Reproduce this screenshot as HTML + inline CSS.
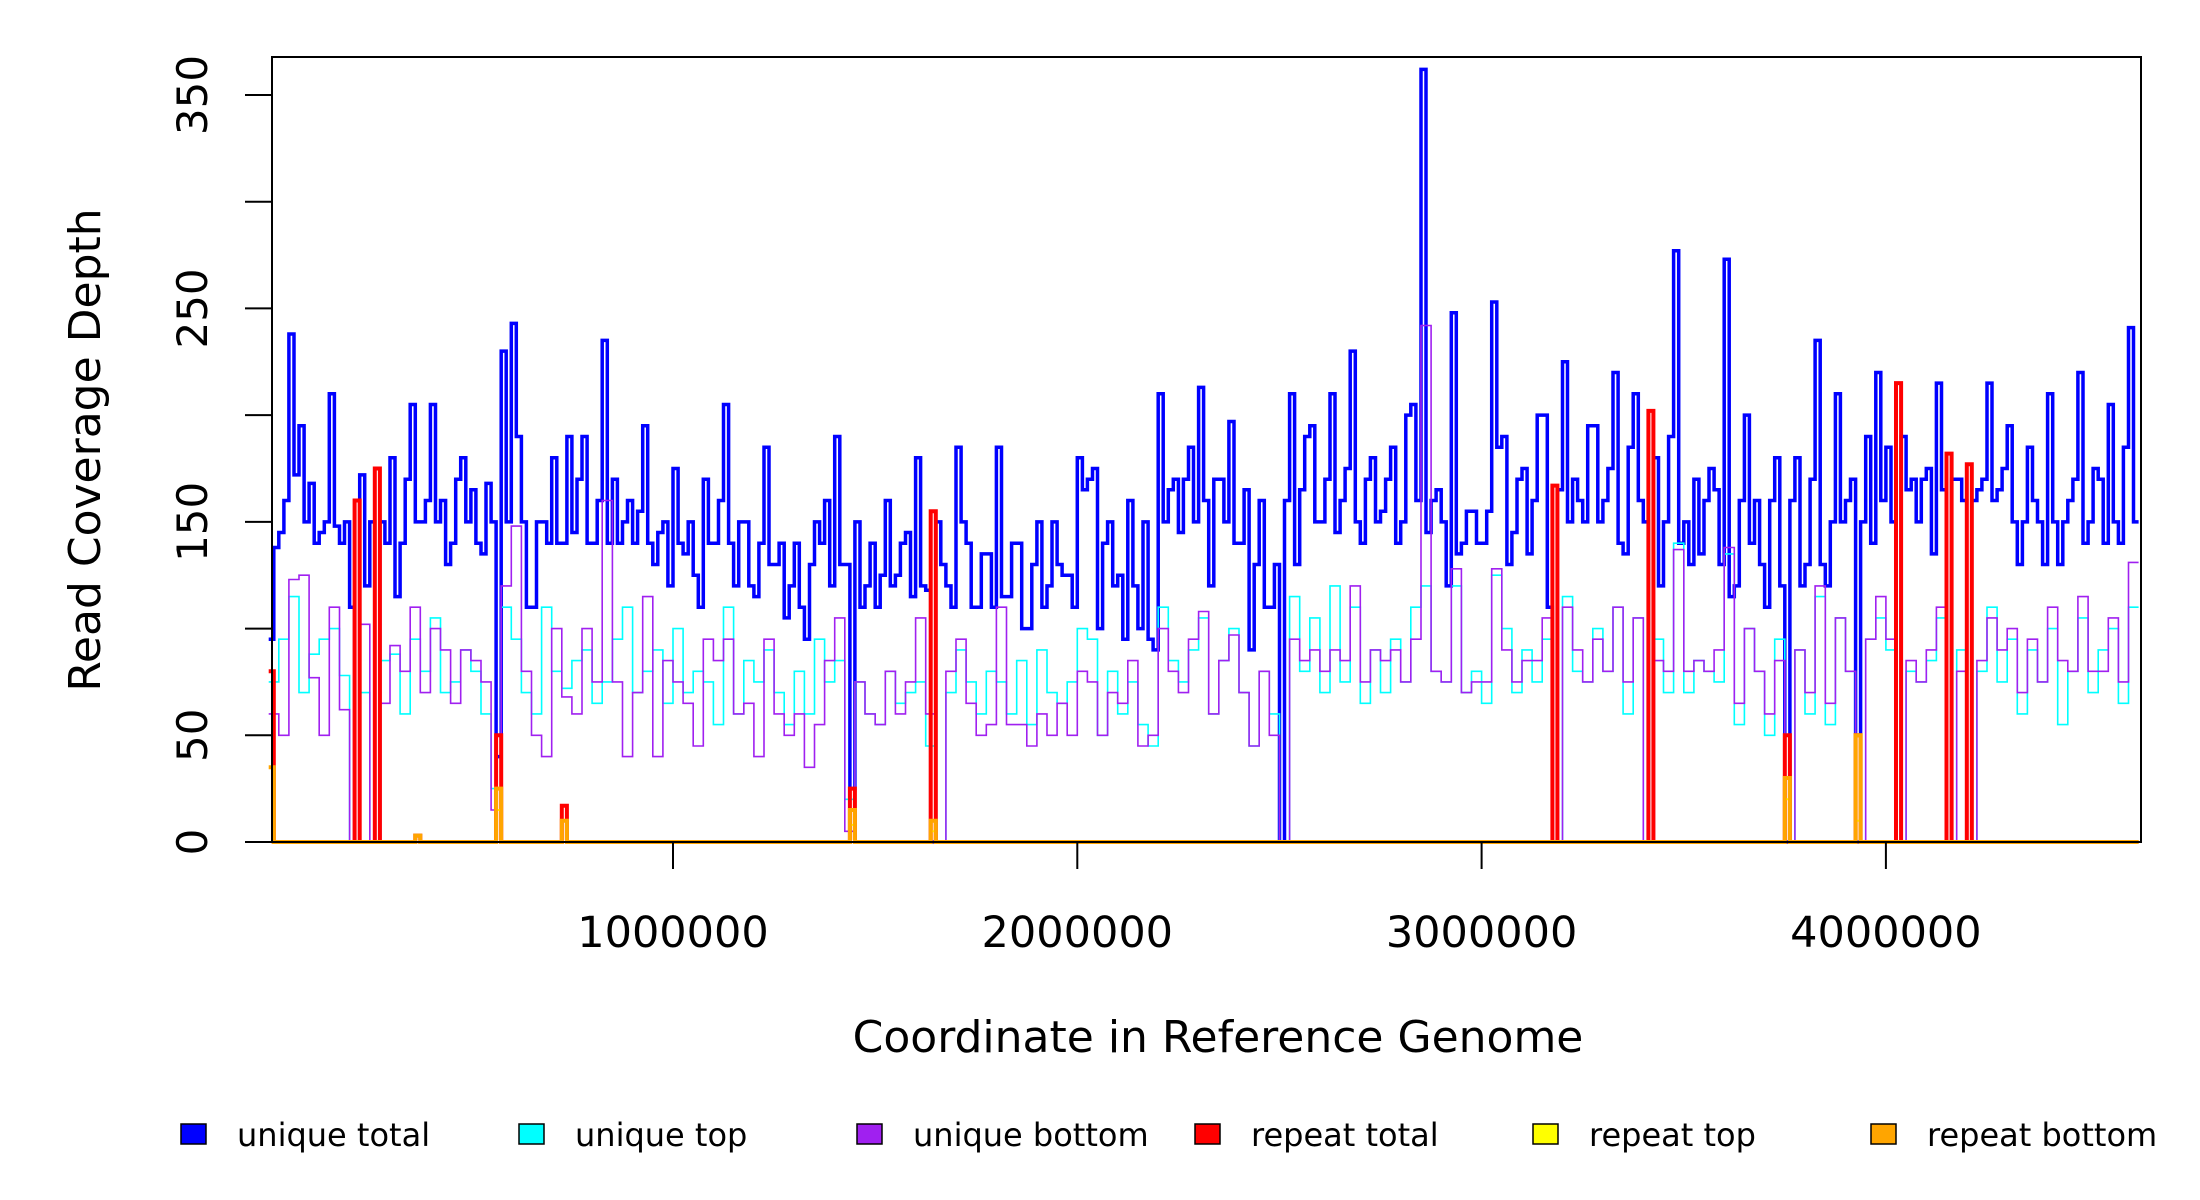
<!DOCTYPE html>
<html><head><meta charset="utf-8">
<style>
html,body{margin:0;padding:0;background:#fff;}
svg{display:block;font-family:"DejaVu Sans","Liberation Sans",sans-serif;}
</style></head>
<body>
<svg id="chart" width="2200" height="1200" viewBox="0 0 2200 1200" xmlns="http://www.w3.org/2000/svg">
<rect x="0" y="0" width="2200" height="1200" fill="#fff"/>
<g id="plot"></g>
<rect x="272" y="57" width="1869" height="785" fill="none" stroke="#000" stroke-width="2"/>
<g id="axes"></g>
<text x="0" y="0" transform="translate(100,450) rotate(-90)" text-anchor="middle" font-size="44">Read Coverage Depth</text>
<text x="1218" y="1052" text-anchor="middle" font-size="44">Coordinate in Reference Genome</text>
<g id="legend"></g>
</svg>
<script>
const fineBin = 12500;
const coarseBin = 25000;
const uniqueTotal = [95,138, 145,160, 238,172, 195,150, 168,140, 145,150, 210,148, 140,150, 110,0, 172,120, 150,0, 150,140, 180,115, 140,170, 205,150, 150,160, 205,150, 160,130, 140,170, 180,150,
165,140, 135,168, 150,40, 230,150, 243,190, 150,110, 110,150, 150,140, 180,140, 140,190,
145,170, 190,140, 140,160, 235,140, 170,140, 150,160, 140,155, 195,140, 130,145, 150,120,
175,140, 135,150, 125,110, 170,140, 140,160, 205,140, 120,150, 150,120, 115,140, 185,130,
130,140, 105,120, 140,110, 95,130, 150,140, 160,120, 190,130, 130,25, 150,110, 120,140,
110,125, 160,120, 125,140, 145,115, 180,120, 118,0, 150,130, 120,110, 185,150, 140,110,
110,135, 135,110, 185,115, 115,140, 140,100, 100,130, 150,110, 120,150, 130,125, 125,110,
180,165, 170,175, 100,140, 150,120, 125,95, 160,120, 100,150, 95,90, 210,150, 165,170,
145,170, 185,150, 213,160, 120,170, 170,150, 197,140, 140,165, 90,130, 160,110, 110,130,
0,160, 210,130, 165,190, 195,150, 150,170, 210,145, 160,175, 230,150, 140,170, 180,150,
155,170, 185,140, 150,200, 205,160, 362,145, 160,165, 150,120, 248,135, 140,155, 155,140,
140,155, 253,185, 190,130, 145,170, 175,135, 160,200, 200,110, 0,165, 225,150, 170,160,
150,195, 195,150, 160,175, 220,140, 135,185, 210,160, 150,0, 180,120, 150,190, 277,140,
150,130, 170,135, 160,175, 165,130, 273,115, 120,160, 200,140, 160,130, 110,160, 180,120,
0,160, 180,120, 130,170, 235,130, 120,150, 210,150, 160,170, 0,150, 190,140, 220,160,
185,150, 0,190, 165,170, 150,170, 175,135, 215,165, 0,170, 170,160, 0,160, 165,170,
215,160, 165,175, 195,150, 130,150, 185,160, 150,130, 210,150, 130,150, 160,170, 220,140,
150,175, 170,140, 205,150, 140,185, 241,150];
const uniqueTop = [75,95,115,70,88,95,100,78,0,70,0,85,88,60,95,80,105,70,75,90,
80,60,25,110,95,70,60,110,80,72,
85,90,65,75,95,110,70,80,90,65,
100,70,80,75,55,110,60,85,75,90,
70,55,80,60,95,75,85,20,75,60,
55,80,65,70,75,45,0,70,90,75,
60,80,75,60,85,55,90,70,65,75,
100,95,50,80,60,75,55,45,110,85,
75,90,105,60,85,100,70,45,80,60,
0,115,80,105,70,120,75,110,65,90,
70,95,75,110,120,80,75,120,70,80,
65,125,100,70,90,75,95,0,115,80,
75,100,80,110,60,105,0,95,70,140,
70,85,80,75,135,55,100,80,50,95,
0,90,60,115,55,105,80,0,95,105,
90,0,80,75,85,105,0,90,0,80,
110,75,95,60,90,75,100,55,80,105,
70,90,100,65,110];
const uniqueBottom = [60,50,123,125,77,50,110,62,0,102,0,65,92,80,110,70,100,90,65,90,
85,75,15,120,148,80,50,40,100,68,
60,100,75,160,75,40,70,115,40,85,
75,65,45,95,85,95,60,65,40,95,
60,50,60,35,55,85,105,5,75,60,
55,80,60,75,105,60,0,80,95,65,
50,55,110,55,55,45,60,50,65,50,
80,75,50,70,65,85,45,50,100,80,
70,95,108,60,85,97,70,45,80,50,
0,95,85,90,80,90,85,120,75,90,
85,90,75,95,242,80,75,128,70,75,
75,128,90,75,85,85,105,0,110,90,
75,95,80,110,75,105,0,85,80,137,
80,85,80,90,138,65,100,80,60,85,
0,90,70,120,65,105,80,0,95,115,
95,0,85,75,90,110,0,80,0,85,
105,90,100,70,95,75,110,85,80,115,
80,80,105,75,131];
const repeatTotalBins = [0,17,21,29,45,58,115,131,254,273,300,314,322,332,336];
const repeatTotalVals = [80,160,175,3,50,17,25,155,167,202,50,50,215,182,177];
const repeatTopBins = [45,115,131,300,314];
const repeatTopVals = [15,8,5,20,10];
const repeatBottomBins = [0,29,45,58,115,131,300,314];
const repeatBottomVals = [35,3,25,10,15,10,30,50];
const yTicks = [0,50,100,150,200,250,300,350];
const yTickLabels = ["0","50","","150","","250","","350"];
const xTicks = [1000000,2000000,3000000,4000000];
const xTickLabels = ["1000000","2000000","3000000","4000000"];
const legendLabels = ["unique total","unique top","unique bottom","repeat total","repeat top","repeat bottom"];
const legendColors = ["#0000ff","#00ffff","#a020f0","#ff0000","#ffff00","#ffa500"];

const NS = "http://www.w3.org/2000/svg";
const X0 = 268.7, PXPERUNIT = 404.3/1000000;
const Y0 = 842, PXPERY = (842-95)/350;
function xs(v){ return X0 + v*PXPERUNIT; }
function ys(v){ return Y0 - v*PXPERY; }
function sparse(bins, vals, n){
  const a = new Array(n).fill(0);
  bins.forEach((b,i)=>{ a[b] = vals[i]; });
  return a;
}
function stepPath(arr, bin){
  let d = "M" + xs(0).toFixed(1) + "," + ys(arr[0]).toFixed(1);
  for (let i=0;i<arr.length;i++){
    d += " V" + ys(arr[i]).toFixed(1) + " H" + xs((i+1)*bin).toFixed(1);
  }
  return d;
}
const plot = document.getElementById("plot");
const nFine = uniqueTotal.length;
const series = [
  {name:"unique-total-line", data:uniqueTotal, bin:fineBin, color:"#0000ff", w:3.5},
  {name:"unique-top-line", data:uniqueTop, bin:coarseBin, color:"#00ffff", w:1.6},
  {name:"unique-bottom-line", data:uniqueBottom, bin:coarseBin, color:"#a020f0", w:1.6},
  {name:"repeat-total-line", data:sparse(repeatTotalBins,repeatTotalVals,nFine), bin:fineBin, color:"#ff0000", w:4},
  {name:"repeat-top-line", data:sparse(repeatTopBins,repeatTopVals,nFine), bin:fineBin, color:"#ffff00", w:2},
  {name:"repeat-bottom-line", data:sparse(repeatBottomBins,repeatBottomVals,nFine), bin:fineBin, color:"#ffa500", w:4}
];
series.forEach(s=>{
  const p = document.createElementNS(NS,"path");
  p.setAttribute("d", stepPath(s.data, s.bin));
  p.setAttribute("fill","none");
  p.setAttribute("stroke", s.color);
  p.setAttribute("stroke-width", s.w);
  
  
  plot.appendChild(p);
});
const axes = document.getElementById("axes");
yTicks.forEach((t,i)=>{
  const l = document.createElementNS(NS,"line");
  l.setAttribute("x1",245); l.setAttribute("x2",272);
  l.setAttribute("y1",ys(t)); l.setAttribute("y2",ys(t));
  l.setAttribute("stroke","#000"); l.setAttribute("stroke-width",2);
  
  
  axes.appendChild(l);
  if (yTickLabels[i]) {
    const tx = document.createElementNS(NS,"text");
    tx.setAttribute("transform","translate(207,"+ys(t)+") rotate(-90)");
    tx.setAttribute("text-anchor","middle");
    tx.setAttribute("font-size","42");
    tx.textContent = yTickLabels[i];
    
    
    axes.appendChild(tx);
  }
});
xTicks.forEach((t,i)=>{
  const l = document.createElementNS(NS,"line");
  l.setAttribute("x1",xs(t)); l.setAttribute("x2",xs(t));
  l.setAttribute("y1",842); l.setAttribute("y2",869);
  l.setAttribute("stroke","#000"); l.setAttribute("stroke-width",2);
  
  
  axes.appendChild(l);
  const tx = document.createElementNS(NS,"text");
  tx.setAttribute("x",xs(t)); tx.setAttribute("y",947);
  tx.setAttribute("text-anchor","middle");
  tx.setAttribute("font-size","43");
  tx.textContent = xTickLabels[i];
  
  
  axes.appendChild(tx);
});
const legend = document.getElementById("legend");
legendLabels.forEach((lab,i)=>{
  const x = 181 + i*338;
  const r = document.createElementNS(NS,"rect");
  r.setAttribute("x",x); r.setAttribute("y",1124);
  r.setAttribute("width",25); r.setAttribute("height",20);
  r.setAttribute("fill",legendColors[i]); r.setAttribute("stroke","#000"); r.setAttribute("stroke-width",1.5);
  
  
  legend.appendChild(r);
  const tx = document.createElementNS(NS,"text");
  tx.setAttribute("x",x+56); tx.setAttribute("y",1146);
  tx.setAttribute("font-size","32");
  tx.textContent = lab;
  
  
  legend.appendChild(tx);
});
</script>
</body></html>
